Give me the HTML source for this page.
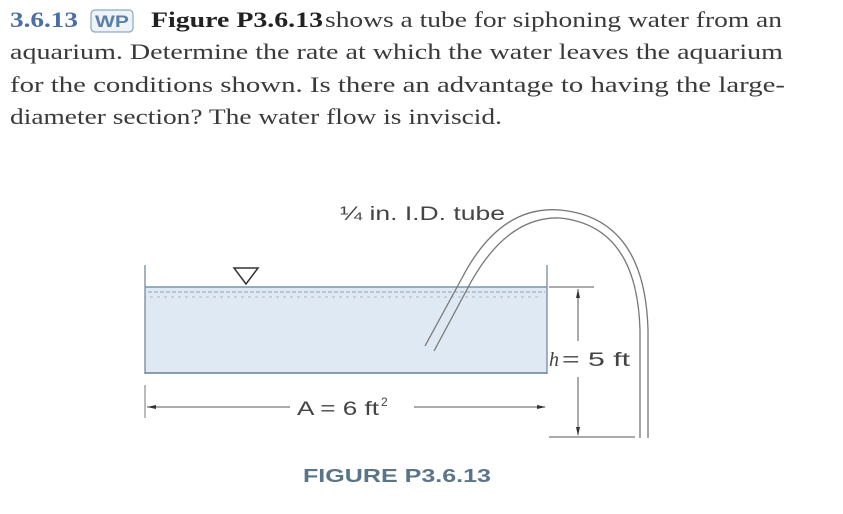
<!DOCTYPE html>
<html><head><meta charset="utf-8"><style>
html,body{margin:0;padding:0;background:#fff;}
svg{display:block;}
.t{font-family:"Liberation Serif",serif;font-size:22px;fill:#3a3a3a;}
.s{font-family:"Liberation Sans",sans-serif;fill:#444;}
</style></head><body>
<svg width="843" height="514" viewBox="0 0 843 514" xmlns="http://www.w3.org/2000/svg">
<rect width="843" height="514" fill="#fff"/>
<text class="t" x="10" y="27" style="fill:#4a6fa5;font-weight:bold" textLength="68" lengthAdjust="spacingAndGlyphs">3.6.13</text>
<rect x="91" y="10" width="42" height="22" rx="4" fill="#eef3f8" stroke="#8aa6c6" stroke-width="1.2"/>
<text x="95" y="27" font-family="Liberation Sans,sans-serif" font-size="17" font-weight="bold" fill="#5b7fa8" textLength="34" lengthAdjust="spacingAndGlyphs">WP</text>
<text class="t" x="151" y="27" style="font-weight:bold;fill:#222" textLength="172" lengthAdjust="spacingAndGlyphs">Figure P3.6.13</text>
<text class="t" x="325" y="27" textLength="457" lengthAdjust="spacingAndGlyphs">shows a tube for siphoning water from an</text>
<text class="t" x="10" y="59" textLength="773" lengthAdjust="spacingAndGlyphs">aquarium. Determine the rate at which the water leaves the aquarium</text>
<text class="t" x="10" y="92" textLength="775" lengthAdjust="spacingAndGlyphs">for the conditions shown. Is there an advantage to having the large-</text>
<text class="t" x="10" y="124" textLength="492" lengthAdjust="spacingAndGlyphs">diameter section? The water flow is inviscid.</text>

<rect x="145" y="287" width="402" height="86" fill="#dfe9f3"/>
<line x1="145" y1="265" x2="145" y2="374" stroke="#6a7f95" stroke-width="1.2"/>
<line x1="547" y1="265" x2="547" y2="374" stroke="#6a7f95" stroke-width="1.2"/>
<line x1="145" y1="373" x2="547" y2="373" stroke="#6a7f95" stroke-width="1.5"/>
<line x1="145" y1="287" x2="547" y2="287" stroke="#7d93aa" stroke-width="1.5"/>
<line x1="148" y1="292" x2="545" y2="292" stroke="#8fa3b8" stroke-width="1" stroke-dasharray="4,2"/>
<line x1="150" y1="297" x2="540" y2="297" stroke="#a7b8ca" stroke-width="1" stroke-dasharray="3,4"/>
<polygon points="234,268 258,268 246,284" fill="#fff" stroke="#333" stroke-width="1.5"/>
<path d="M425,346 L462,278 Q500,205 560,210 Q645,218 648,330 L648,438" fill="none" stroke="#777" stroke-width="1.3"/>
<path d="M434,351 L471,282 Q508,216 560,218 Q637,226 640,330 L640,438" fill="none" stroke="#777" stroke-width="1.3"/>
<line x1="145" y1="385" x2="145" y2="418" stroke="#777" stroke-width="1"/>
<line x1="147" y1="407" x2="290" y2="407" stroke="#555" stroke-width="1"/>
<line x1="414" y1="407" x2="545" y2="407" stroke="#555" stroke-width="1"/>
<polygon points="147,407 156,405 156,409" fill="#333"/>
<polygon points="546,407 537,405 537,409" fill="#333"/>
<text class="s" x="297" y="415" font-size="19" textLength="82" lengthAdjust="spacingAndGlyphs">A = 6 ft</text>
<text class="s" x="381" y="406" font-size="12">2</text>
<line x1="549" y1="287" x2="594" y2="287" stroke="#555" stroke-width="1"/>
<line x1="549" y1="437" x2="635" y2="437" stroke="#555" stroke-width="1"/>
<line x1="578" y1="289" x2="578" y2="341" stroke="#555" stroke-width="1"/>
<line x1="578" y1="377" x2="578" y2="435" stroke="#555" stroke-width="1"/>
<polygon points="578,289 576,298 580,298" fill="#333"/>
<polygon points="578,436 576,427 580,427" fill="#333"/>
<text x="549" y="366" font-family="Liberation Serif,serif" font-style="italic" font-size="20" fill="#444">h</text>
<text class="s" x="562" y="366" font-size="19" textLength="68" lengthAdjust="spacingAndGlyphs">= 5 ft</text>
<text class="s" x="340" y="220" font-size="19" textLength="165" lengthAdjust="spacingAndGlyphs">¼ in. I.D. tube</text>
<text x="303" y="482" font-family="Liberation Sans,sans-serif" font-weight="bold" font-size="18" fill="#5a7488" textLength="188" lengthAdjust="spacingAndGlyphs">FIGURE P3.6.13</text>
</svg>
</body></html>
